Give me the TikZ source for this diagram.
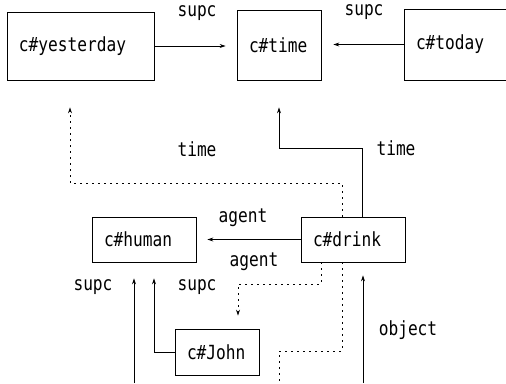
\documentclass[tikz,border=0pt]{standalone}
\usepackage{fontspec}
\setmonofont[FakeStretch=0.83]{DejaVu Sans Mono}
\usetikzlibrary{arrows.meta,calc}

\begin{document}
\begin{tikzpicture}[x=1pt,y=1pt,line width=0.8pt,
    >={Stealth[length=6pt,width=4pt]},
    every node/.style={font=\ttfamily\fontsize{19.5}{21}\selectfont},
    concept/.style={draw,align=left,inner xsep=12pt,minimum height=#1},
    dotline/.style={dash pattern=on 1.2pt off 4.8pt}]
  \useasboundingbox (0,0) rectangle (506,383);
  % upper row
  \node[concept=68pt,text width=123pt] (yesterday) at (80.5,337) {c\#yesterday};
  \node[concept=70pt,text width=60pt] (time) at (279,338) {c\#time};
  \node[concept=71pt,text width=86pt] (today) at (459,338.5) {c\#today};
  % lower part
  \node[concept=45pt,text width=80pt] (drink) at (353,143.5) {c\#drink};
  \node[concept=45pt,text width=80pt] (human) at (144,143.5) {c\#human};
  \node[concept=46pt,text width=60pt] (John) at (217,31) {c\#John};
  %% labels
  \node (supcA) at (197,370) {supc};
  \node (supcB) at (364,371) {supc};
  \node (timeA) at (197,234) {time};
  \node (timeB) at (396,235) {time};
  \node (agentA) at (243,165) {agent};
  \node (agentB) at (254,121) {agent};
  \node (supcC) at (93,96) {supc};
  \node (supcD) at (197,96) {supc};
  \node (object) at (408,53) {object};
  %% free ends at the bottom
  \coordinate (inA) at (134,0);
  \coordinate (inB) at (279,0);
  \coordinate (inC) at (363,0);

  \draw[->,shorten >=11pt] (yesterday.east) -- (yesterday.east -| time.west);
  \draw[->,shorten >=12pt] (today.west) -- (today.west -| time.east);
  \draw[->,dotline,shorten >=27pt] ([xshift=-11pt]drink.north) |- (70,200)
    -- ([xshift=-10.5pt]yesterday.south);
  \draw[->,shorten >=27pt] ([xshift=9pt]drink.north) |- (279,235) -- (time.south);
  \draw[->,shorten >=11pt] (drink.west) -- (human.east);
  \draw[->,dotline,shorten >=13pt] ([xshift=-32pt]drink.south) |- (238,99)
    -- ([xshift=21pt]John.north);
  \draw[->,shorten >=16pt] (John.west) -| ([xshift=10pt]human.south);
  \draw[->,shorten >=16pt] (inA) -- (inA |- human.south);
  \draw[dotline] ([xshift=-11pt]drink.south) |- (279,32) -- (inB);
  \draw[->,shorten >=13pt] (inC) -- (inC |- drink.south);
\end{tikzpicture}
\end{document}
